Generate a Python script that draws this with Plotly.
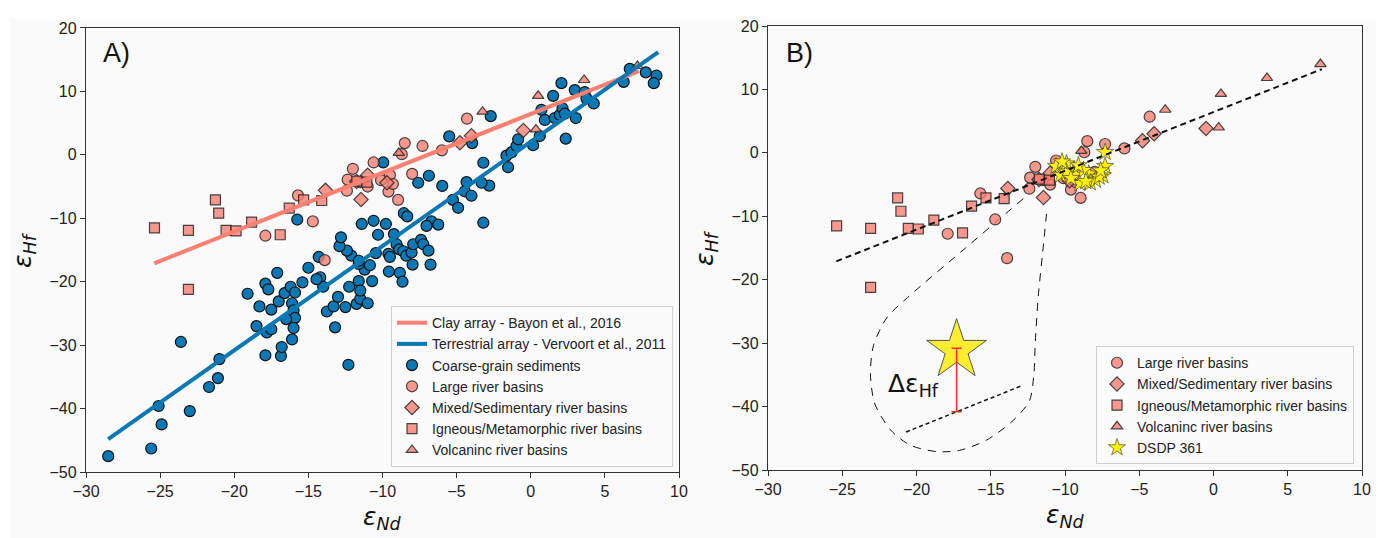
import plotly.graph_objects as go

# ---------------- data ----------------
coarse_nd = [-28.5, -25.6, -24.9, -25.1, -23.0, -23.6, -21.7, -21.1, -21.0, -19.1, -17.9, -18.5, -18.3, -17.9,
             -17.7, -17.1, -17.5, -17.8, -17.5, -16.85, -16.8, -17.0, -16.6, -16.2, -15.9, -16.1, -16.0, -15.9,
             -16.0, -16.1, -16.5, -15.4, -15.0, -14.3, -14.2, -14.0, -14.45, -15.75, -13.75, -13.3, -13.2, -13.0,
             -12.5, -12.3, -12.25, -11.75, -11.5, -11.0, -11.6, -11.5, -11.2, -10.85, -10.7, -11.6, -12.1, -12.4,
             -12.9, -12.8, -11.4, -10.6, -10.3, -10.45,
             -9.77, -9.95, -9.23, -9.05, -8.87, -9.6, -9.5, -8.6, -8.4, -8.04, -7.93, -7.4, -7.25, -6.9, -7.97,
             -6.76, -9.57, -8.83, -8.65, -11.6, -8.56, -8.33, -7.59, -6.87, -5.97, -6.7, -7.03, -6.24, -5.25, -4.9,
             -4.45, -4.33, -4.0, -5.5, -3.95, -2.7, -3.2, -2.8, -3.2, -3.32,
             -1.53, -1.64, -1.3, -0.96, -0.85, 0.16, 0.61, 0.72, 0.95, 1.51, 1.62, 1.96, 2.14, 2.3, 2.07, 2.36,
             2.97, 3.04, 3.64, 3.76, 4.25, 6.27, 6.68, 7.76, 8.48, 8.3]
coarse_hf = [-47.5, -46.3, -42.5, -39.6, -40.4, -29.5, -36.6, -35.2, -32.2, -21.9, -31.6, -27.0, -23.9, -20.3,
             -21.2, -18.6, -24.4, -28.0, -27.5, -31.7, -30.3, -23.1, -21.8, -20.8, -21.7, -23.4, -24.5, -25.7,
             -27.3, -29.1, -25.9, -20.1, -17.8, -16.1, -19.3, -20.8, -19.6, -10.2, -24.7, -23.9, -27.2, -22.4,
             -24.0, -33.1, -20.8, -23.5, -22.7, -23.4, -19.9, -21.4, -18.1, -17.4, -19.9, -17.2, -15.9, -15.1,
             -14.4, -13.0, -10.9, -10.4, -12.6, -15.5,
             -10.9, -1.2, -12.5, -14.1, -14.9, -15.6, -16.1, -15.2, -15.9, -15.4, -14.1, -13.4, -14.1, -15.1, -17.3,
             -17.3, -18.4, -18.6, -20.0, -16.7, -9.2, -9.7, -4.4, -3.3, -4.9, -10.5, -11.2, -11.0, -7.1, -8.35,
             -5.75, -4.3, -6.45, 2.9, 1.85, 6.1, -1.25, -4.85, -10.7, -4.4,
             -1.95, -0.13, 0.38, 1.4, 2.45, 1.52, 2.96, 7.1, 5.5, 9.3, 5.8, 6.3, 7.35, 6.5, 11.3, 2.55,
             10.2, 5.8, 9.9, 8.9, 8.1, 11.5, 13.55, 13.0, 12.5, 11.3]

large_nd = [-4.3, -8.5, -7.3, -6.0, -8.7, -10.6, -12.0, -12.35, -12.4, -15.7, -14.7, -17.9, -13.9, -8.0,
            -9.6, -8.95, -11.0, -9.5, -11.5, -10.1, -9.3]
large_hf = [5.7, 1.85, 1.4, 0.7, 0.1, -1.2, -2.2, -3.9, -5.65, -6.4, -10.5, -12.75, -16.6, -3.0,
            -5.8, -7.1, -5.0, -3.2, -4.3, -4.0, -4.6]

mixed_nd = [-13.85, -11.45, -9.7, -11.0, -11.75, -4.78, -4.0, -0.5]
mixed_hf = [-5.6, -7.05, -4.4, -3.2, -4.2, 1.9, 3.0, 3.85]

igneous_nd = [-25.38, -23.09, -23.09, -21.27, -21.05, -20.55, -19.88, -18.83, -16.9, -16.29, -15.32, -14.1,
              -11.73, -11.05]
igneous_hf = [-11.5, -11.9, -21.2, -7.1, -9.2, -11.9, -12.0, -10.6, -12.6, -8.4, -7.1, -7.2, -4.15, -4.3]

volcanic_nd = [7.2, 3.6, 0.5, 0.35, -3.25, -8.9]
volcanic_hf = [14.0, 11.8, 9.3, 4.0, 6.8, 0.3]

dsdp_nd = [-7.3, -7.3, -7.45, -10.6, -10.3, -9.9, -9.4, -9.3, -9.0, -8.4, -8.3, -7.95, -7.7, -8.75, -9.1,
           -9.9, -8.6, -9.6, -10.2, -7.6]
dsdp_hf = [0.1, -2.1, -3.6, -2.1, -3.5, -1.7, -2.75, -3.5, -4.8, -3.3, -4.7, -4.3, -3.8, -2.75, -2.0,
           -3.0, -4.5, -4.0, -1.4, -2.8]

clay_nd = [-25.4, 7.3]
clay_hf = [-17.1, 13.2]
terr_nd = [-28.5, 8.6]
terr_hf = [-44.8, 16.2]

offset_nd = [-20.7, -12.9]
offset_hf = [-44.0, -36.7]

envelope_nd = [-12.8, -16.7, -20.6, -22.0, -22.9, -23.1, -22.8, -21.7, -20.4, -18.6, -17.1, -15.3, -13.5,
               -12.4, -12.1, -12.0, -11.8, -11.5, -11.2]
envelope_hf = [-7.2, -15.0, -22.8, -26.0, -30.4, -35.0, -39.6, -43.8, -46.1, -47.1, -46.9, -45.3, -42.2,
               -39.1, -35.0, -29.8, -22.6, -15.6, -8.6]

delta_star_nd = [-17.3]
delta_star_hf = [-31.1]
delta_top_hf = [-30.8]
delta_len = [10.0]

x_ticks = [-30, -25, -20, -15, -10, -5, 0, 5, 10]
y_ticks = [-50, -40, -30, -20, -10, 0, 10, 20]

# ---------------- layout geometry ----------------
# the page body has an 8px margin, so the figure is drawn 8px right/down of the window corner
OFF = 8
W, H = 1384 - OFF, 538 - OFF
ML, MR, MT, MB = 86 - OFF, 22, 18 - OFF, 66
PW = W - ML - MR
PH = H - MT - MB


def fx(p):  # screenshot pixel -> paper x
    return (p - OFF - ML) / PW


def fy(p):  # screenshot pixel -> paper y
    return (H - MB - (p - OFF)) / PH


BLUE = "#0a78b4"
SALMON = "rgba(248,126,114,0.8)"
EDGE = "rgba(40,40,40,0.85)"
LINE_SALMON = "#fa8072"
TICKFONT = dict(family="Liberation Sans, Arial", size=16, color="#222222")

fig = go.Figure()


def pink_traces(xa, ya, legend, show):
    specs = [
        ("Large river basins", large_nd, large_hf, "circle", 11, 3),
        ("Mixed/Sedimentary river basins", mixed_nd, mixed_hf, "diamond", 11, 4),
        ("Igneous/Metamorphic river basins", igneous_nd, igneous_hf, "square", 10, 5),
        ("Volcaninc river basins", volcanic_nd, volcanic_hf, "triangle-up", 10, 6),
    ]
    for name, xs, ys, sym, sz, rank in specs:
        fig.add_trace(go.Scatter(
            x=xs, y=ys, mode="markers", name=name, xaxis=xa, yaxis=ya,
            legend=legend, legendrank=rank, showlegend=show,
            marker=dict(symbol=sym, size=sz, color=SALMON, line=dict(color=EDGE, width=1.2))))


# ---- panel A ----
fig.add_trace(go.Scatter(
    x=coarse_nd, y=coarse_hf, mode="markers", name="Coarse-grain sediments", xaxis="x", yaxis="y",
    legend="legend", legendrank=2.5,
    marker=dict(symbol="circle", size=11, color=BLUE, line=dict(color="#111111", width=1.2))))
pink_traces("x", "y", "legend", True)
fig.add_trace(go.Scatter(
    x=clay_nd, y=clay_hf, mode="lines", name="Clay array - Bayon et al., 2016", xaxis="x", yaxis="y",
    legend="legend", legendrank=1, line=dict(color=LINE_SALMON, width=4)))
fig.add_trace(go.Scatter(
    x=terr_nd, y=terr_hf, mode="lines", name="Terrestrial array - Vervoort et al., 2011", xaxis="x",
    yaxis="y", legend="legend", legendrank=2, line=dict(color=BLUE, width=4)))

# ---- panel B ----
fig.add_trace(go.Scatter(
    x=envelope_nd, y=envelope_hf, mode="lines", xaxis="x2", yaxis="y2", showlegend=False,
    line=dict(color="#111111", width=1, dash="8px,7px", shape="spline", smoothing=0.8), hoverinfo="skip"))
fig.add_trace(go.Scatter(
    x=offset_nd, y=offset_hf, mode="lines", xaxis="x2", yaxis="y2", showlegend=False,
    line=dict(color="#111111", width=1.5, dash="4px,3px"), hoverinfo="skip"))
pink_traces("x2", "y2", "legend2", True)
fig.add_trace(go.Scatter(
    x=dsdp_nd, y=dsdp_hf, mode="markers", name="DSDP 361", xaxis="x2", yaxis="y2",
    legend="legend2", legendrank=7,
    marker=dict(symbol="star", size=13, color="#fff200", line=dict(color="#333333", width=0.6))))
fig.add_trace(go.Scatter(
    x=clay_nd, y=clay_hf, mode="lines", xaxis="x2", yaxis="y2", showlegend=False,
    line=dict(color="#111111", width=2, dash="6px,4px"), hoverinfo="skip"))
fig.add_trace(go.Scatter(
    x=delta_star_nd, y=delta_star_hf, mode="markers", xaxis="x2", yaxis="y2", showlegend=False,
    marker=dict(symbol="star", size=45, color="#ffee30", line=dict(color="#555555", width=1))))
fig.add_trace(go.Scatter(
    x=delta_star_nd, y=delta_top_hf, mode="markers", xaxis="x2", yaxis="y2", showlegend=False,
    marker=dict(size=1, opacity=0),
    error_y=dict(type="data", symmetric=False, array=[0], arrayminus=delta_len,
                 color="#ff2a2a", thickness=1.6, width=5)))

axis_common = dict(showgrid=False, zeroline=False, showline=True, mirror=True, linecolor="#333333",
                   linewidth=1.3, ticks="outside", ticklen=5, tickwidth=1.2, tickcolor="#333333",
                   tickfont=TICKFONT)

fig.update_layout(
    width=W, height=H,
    margin=dict(l=ML, r=MR, t=MT, b=MB),
    paper_bgcolor="white", plot_bgcolor="#fafafa",
    xaxis=dict(domain=[fx(86), fx(679)], range=[-30, 10], tickvals=x_ticks, anchor="y", **axis_common),
    yaxis=dict(domain=[fy(472), fy(20)], range=[-50, 20], tickvals=y_ticks, anchor="x", **axis_common),
    xaxis2=dict(domain=[fx(768), fx(1362)], range=[-30, 10], tickvals=x_ticks, anchor="y2", **axis_common),
    yaxis2=dict(domain=[fy(470), fy(18)], range=[-50, 20], tickvals=y_ticks, anchor="x2", **axis_common),
    legend=dict(x=fx(673), y=fy(467), xanchor="right", yanchor="bottom",
                bgcolor="rgba(250,250,250,0.85)", bordercolor="#cfcfcf", borderwidth=1,
                font=dict(family="Liberation Sans, Arial", size=14, color="#222222"),
                tracegroupgap=0, itemwidth=30),
    legend2=dict(x=fx(1354), y=fy(464), xanchor="right", yanchor="bottom",
                 bgcolor="rgba(250,250,250,0.85)", bordercolor="#cfcfcf", borderwidth=1,
                 font=dict(family="Liberation Sans, Arial", size=14, color="#222222"),
                 tracegroupgap=0, itemwidth=30),
    shapes=[dict(type="rect", xref="paper", yref="paper", x0=fx(10), x1=fx(1400), y0=fy(560), y1=fy(10),
                 fillcolor="#fafafa", line=dict(width=0), layer="below")],
)

title_font = dict(family="DejaVu Sans", size=25, color="#111111")
ann = [
    dict(text="<i>ε<sub>Hf</sub></i>", xref="paper", yref="paper", x=fx(24), y=fy(246),
         textangle=-90, showarrow=False, font=title_font, xanchor="center", yanchor="middle"),
    dict(text="<i>ε<sub>Hf</sub></i>", xref="paper", yref="paper", x=fx(706), y=fy(244),
         textangle=-90, showarrow=False, font=title_font, xanchor="center", yanchor="middle"),
    dict(text="<i>ε<sub>Nd</sub></i>", xref="paper", yref="paper", x=fx(382), y=fy(500),
         showarrow=False, font=title_font, xanchor="center", yanchor="top"),
    dict(text="<i>ε<sub>Nd</sub></i>", xref="paper", yref="paper", x=fx(1065), y=fy(498),
         showarrow=False, font=title_font, xanchor="center", yanchor="top"),
    dict(text="A)", xref="x domain", yref="y domain", x=0.025, y=1 - 25 / 452, showarrow=False,
         font=dict(family="Liberation Sans, Arial", size=27, color="#111111"), xanchor="left",
         yanchor="middle"),
    dict(text="B)", xref="x2 domain", yref="y2 domain", x=0.027, y=1 - 27 / 452, showarrow=False,
         font=dict(family="Liberation Sans, Arial", size=27, color="#111111"), xanchor="left",
         yanchor="middle"),
    dict(text="Δε<sub>Hf</sub>", xref="x2", yref="y2", x=-20.2, y=-36.6, showarrow=False,
         font=dict(family="DejaVu Sans", size=25, color="#111111"), xanchor="center", yanchor="middle"),
]
fig.update_layout(annotations=ann)

fig.write_html("out.html")
